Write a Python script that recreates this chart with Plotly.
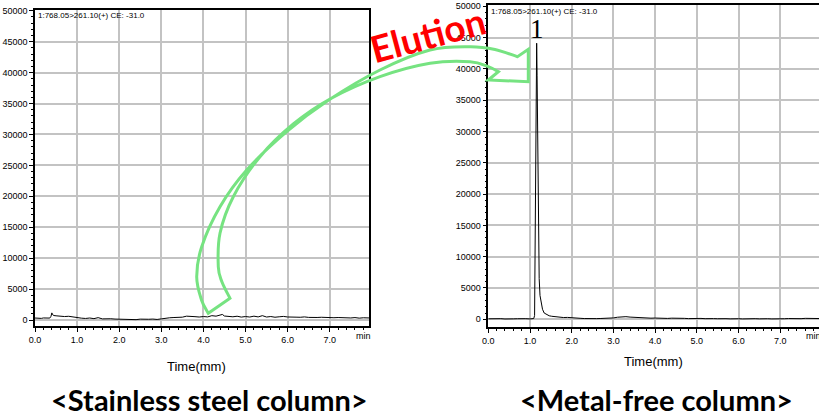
import plotly.graph_objects as go

W, H = 819, 416

# ---------------- data ----------------
ss_time = [0.00, 0.05, 0.10, 0.15, 0.20, 0.25, 0.30, 0.35, 0.38, 0.40, 0.42, 0.45, 0.50, 0.55, 0.60,
           0.70, 0.80, 0.90, 1.00, 1.10, 1.20, 1.30, 1.40, 1.50, 1.60, 1.70, 1.80, 1.90, 2.00, 2.10,
           2.20, 2.30, 2.40, 2.50, 2.60, 2.70, 2.80, 2.90, 3.00, 3.10, 3.20, 3.30, 3.40, 3.50, 3.60,
           3.70, 3.80, 3.90, 4.00, 4.10, 4.20, 4.30, 4.40, 4.45, 4.50, 4.60, 4.70, 4.80, 4.90, 5.00,
           5.10, 5.20, 5.30, 5.40, 5.50, 5.60, 5.70, 5.80, 5.90, 6.00, 6.10, 6.20, 6.30, 6.40, 6.50,
           6.60, 6.70, 6.80, 6.90, 7.00, 7.10, 7.20, 7.30, 7.40, 7.50, 7.60, 7.70, 7.80, 7.90, 7.94]
ss_intensity = [320, 280, 350, 260, 330, 290, 240, 310, 600, 1150, 850, 720, 680, 640, 650,
                560, 600, 470, 420, 300, 250, 320, 220, 380, 180, 240, 200, 150, 120, 80,
                130, 90, 60, 140, 70, 120, 150, 90, 180, 300, 360, 400, 420, 460, 620,
                520, 540, 480, 560, 500, 700, 620, 760, 900, 640, 580, 520, 610, 470, 560,
                480, 620, 500, 700, 480, 560, 450, 520, 580, 490, 530, 460, 440, 500, 420,
                470, 410, 440, 380, 420, 370, 400, 350, 380, 330, 390, 300, 360, 310, 330]

mf_time = [0.00, 0.10, 0.20, 0.30, 0.40, 0.50, 0.60, 0.70, 0.80, 0.90, 1.00, 1.05, 1.09, 1.11, 1.13,
           1.15, 1.16, 1.17, 1.185, 1.20, 1.22, 1.24, 1.27, 1.30, 1.34, 1.40, 1.46, 1.52, 1.60, 1.70,
           1.80, 1.90, 2.00, 2.10, 2.20, 2.30, 2.40, 2.50, 2.60, 2.70, 2.80, 2.90, 3.00, 3.10, 3.20,
           3.30, 3.40, 3.50, 3.60, 3.70, 3.80, 3.90, 4.00, 4.10, 4.20, 4.30, 4.40, 4.50, 4.60, 4.70,
           4.80, 4.90, 5.00, 5.10, 5.20, 5.30, 5.40, 5.50, 5.60, 5.70, 5.80, 5.90, 6.00, 6.10, 6.20,
           6.30, 6.40, 6.50, 6.60, 6.70, 6.80, 6.90, 7.00, 7.10, 7.20, 7.30, 7.40, 7.50, 7.60, 7.70,
           7.80, 7.90, 7.94]
mf_intensity = [80, 120, 60, 100, 50, 110, 70, 90, 40, 100, 60, 80, 120, 600, 14000,
                38000, 44100, 39000, 24000, 13000, 6500, 3800, 2400, 1600, 1000, 750, 560, 480, 400, 330,
                280, 300, 220, 260, 160, 120, 90, 60, 110, 130, 150, 260, 220, 330, 380,
                420, 350, 300, 260, 210, 230, 180, 200, 160, 190, 140, 180, 130, 170, 150,
                110, 160, 120, 140, 100, 150, 110, 90, 130, 100, 70, 120, 90, 60, 110,
                80, 100, 70, 120, 90, 60, 110, 140, 90, 120, 80, 130, 100, 150, 110,
                130, 90, 120]

x_tick_vals = [0, 1, 2, 3, 4, 5, 6, 7]
x_tick_text = ["0.0", "1.0", "2.0", "3.0", "4.0", "5.0", "6.0", "7.0"]
y_tick_vals = [0, 5000, 10000, 15000, 20000, 25000, 30000, 35000, 40000, 45000, 50000]
y_tick_text = [str(v) for v in y_tick_vals]
x_minor_vals = [round(i * 0.2, 1) for i in range(40)]
y_minor_vals = [i * 1000 for i in range(51)]

trace_label = "1:768.05&gt;261.10(+) CE: -31.0"
peak_label = "1"
panel_titles = ["&lt;Stainless steel column&gt;", "&lt;Metal-free column&gt;"]
x_title = "Time(mm)"

# ---------------- helpers ----------------
def px(x):
    return x / W

def py(y):
    return 1 - y / H

def smooth(points):
    s = ""
    n = len(points)
    for i in range(n - 1):
        p0 = points[i - 1] if i > 0 else points[i]
        p1 = points[i]
        p2 = points[i + 1]
        p3 = points[i + 2] if i + 2 < n else points[i + 1]
        c1 = (p1[0] + (p2[0] - p0[0]) / 6, p1[1] + (p2[1] - p0[1]) / 6)
        c2 = (p2[0] - (p3[0] - p1[0]) / 6, p2[1] - (p3[1] - p1[1]) / 6)
        s += " C %.5f,%.5f %.5f,%.5f %.5f,%.5f" % (px(c1[0]), py(c1[1]), px(c2[0]), py(c2[1]),
                                                   px(p2[0]), py(p2[1]))
    return s

outer = [(517.5, 56.7), (495, 49.5), (470, 46.7), (430, 50), (380, 70), (328, 100.5),
         (286.7, 131.7), (246.7, 170), (220, 206.7), (201.7, 246.7), (196.7, 276.7),
         (201.5, 300), (208.3, 313.3)]
inner = [(230, 298.3), (222, 282), (218.3, 266.7), (220, 233.3), (233.3, 196.7), (260, 156.7),
         (293.3, 124), (330, 99), (380, 76.7), (430, 63.3), (470, 61.7), (488.3, 66.7),
         (498.3, 71.7)]
head = [(488.3, 80), (528.3, 81.7), (528.3, 49.3)]

path = "M %.5f,%.5f" % (px(outer[0][0]), py(outer[0][1]))
path += smooth(outer)
path += " L %.5f,%.5f" % (px(inner[0][0]), py(inner[0][1]))
path += smooth(inner)
for p in head:
    path += " L %.5f,%.5f" % (px(p[0]), py(p[1]))
path += " Z"

# ---------------- figure ----------------
fig = go.Figure()
fig.add_trace(go.Scatter(x=ss_time, y=ss_intensity, mode="lines",
                         line=dict(color="black", width=1), xaxis="x", yaxis="y",
                         showlegend=False, hoverinfo="skip"))
fig.add_trace(go.Scatter(x=mf_time, y=mf_intensity, mode="lines",
                         line=dict(color="black", width=1), xaxis="x2", yaxis="y2",
                         showlegend=False, hoverinfo="skip"))

tick_font = dict(family="Liberation Sans, Arial", size=9, color="black")

def xaxis(domain, anchor, rng):
    return dict(domain=domain, anchor=anchor, range=rng, tickmode="array",
                tickvals=x_tick_vals, ticktext=x_tick_text, ticks="outside", ticklen=4,
                tickcolor="black", tickwidth=1, tickfont=tick_font, showgrid=True,
                gridcolor="#C3C3C3", gridwidth=2, zeroline=False, showline=True,
                linecolor="black", linewidth=1.5, mirror=True, automargin=False,
                minor=dict(tickmode="array", tickvals=x_minor_vals, ticks="outside",
                           ticklen=2, tickcolor="black", showgrid=False))

def yaxis(domain, anchor, rng):
    return dict(domain=domain, anchor=anchor, range=rng, tickmode="array",
                tickvals=y_tick_vals, ticktext=y_tick_text, ticks="outside", ticklen=4,
                tickcolor="black", tickwidth=1, tickfont=tick_font, showgrid=True,
                gridcolor="#C3C3C3", gridwidth=2, zeroline=False, showline=True,
                linecolor="black", linewidth=1.5, mirror=True, automargin=False,
                minor=dict(tickmode="array", tickvals=y_minor_vals, ticks="outside",
                           ticklen=2, tickcolor="black", showgrid=False))

fig.update_layout(
    width=W, height=H, margin=dict(l=0, r=0, t=0, b=0, autoexpand=False),
    paper_bgcolor="white", plot_bgcolor="white",
    xaxis=xaxis([px(35), px(369.3)], "y", [0, 7.94]),
    yaxis=yaxis([py(326), py(10.3)], "x", [-970, 50080]),
    xaxis2=xaxis([px(488.3), 1.0], "y2", [0, 7.93]),
    yaxis2=yaxis([py(327.3), py(5.3)], "x2", [-1280, 50160]),
)

peak_i = mf_intensity.index(max(mf_intensity))

annotations = [
    dict(text=trace_label, x=px(36), y=py(15.7), xref="paper", yref="paper", xanchor="left",
         yanchor="middle", showarrow=False, font=dict(family="Liberation Sans, Arial", size=8, color="black")),
    dict(text=trace_label, x=px(488.5), y=py(11), xref="paper", yref="paper", xanchor="left",
         yanchor="middle", showarrow=False, font=dict(family="Liberation Sans, Arial", size=8, color="black")),
    dict(text=peak_label, x=mf_time[peak_i], y=py(28.5), xref="x2", yref="paper", xanchor="center",
         yanchor="middle", showarrow=False, font=dict(family="Liberation Serif, Times New Roman", size=27, color="black")),
    dict(text="min", x=7.8, y=py(335.5), xref="x", yref="paper", xanchor="center", yanchor="middle",
         showarrow=False, font=tick_font),
    dict(text="min", x=7.8, y=py(335.5), xref="x2", yref="paper", xanchor="center", yanchor="middle",
         showarrow=False, font=tick_font),
    dict(text=x_title, x=px(196), y=py(366.7), xref="paper", yref="paper", xanchor="center",
         yanchor="middle", showarrow=False, font=dict(family="Liberation Sans, Arial", size=13, color="black")),
    dict(text=x_title, x=px(653), y=py(361.7), xref="paper", yref="paper", xanchor="center",
         yanchor="middle", showarrow=False, font=dict(family="Liberation Sans, Arial", size=13, color="black")),
    dict(text="<b>" + panel_titles[0] + "</b>", x=px(210), y=py(399.5), xref="paper", yref="paper",
         xanchor="center", yanchor="middle", showarrow=False,
         font=dict(family="Lato", size=29, color="black")),
    dict(text="<b>" + panel_titles[1] + "</b>", x=px(656), y=py(399.5), xref="paper", yref="paper",
         xanchor="center", yanchor="middle", showarrow=False,
         font=dict(family="Lato", size=29, color="black")),
    dict(text="<b>Elution</b>", x=px(427), y=py(34), xref="paper", yref="paper", xanchor="center",
         yanchor="middle", showarrow=False, textangle=-15,
         font=dict(family="Lato", size=37, color="#FF0000")),
]
fig.update_layout(annotations=annotations)

fig.add_shape(type="path", path=path, xref="paper", yref="paper",
              line=dict(color="#76E381", width=3), fillcolor="rgba(0,0,0,0)", layer="above")

fig.write_html("out.html", config={"displayModeBar": False},
               post_script="document.body.style.margin='0px';")
